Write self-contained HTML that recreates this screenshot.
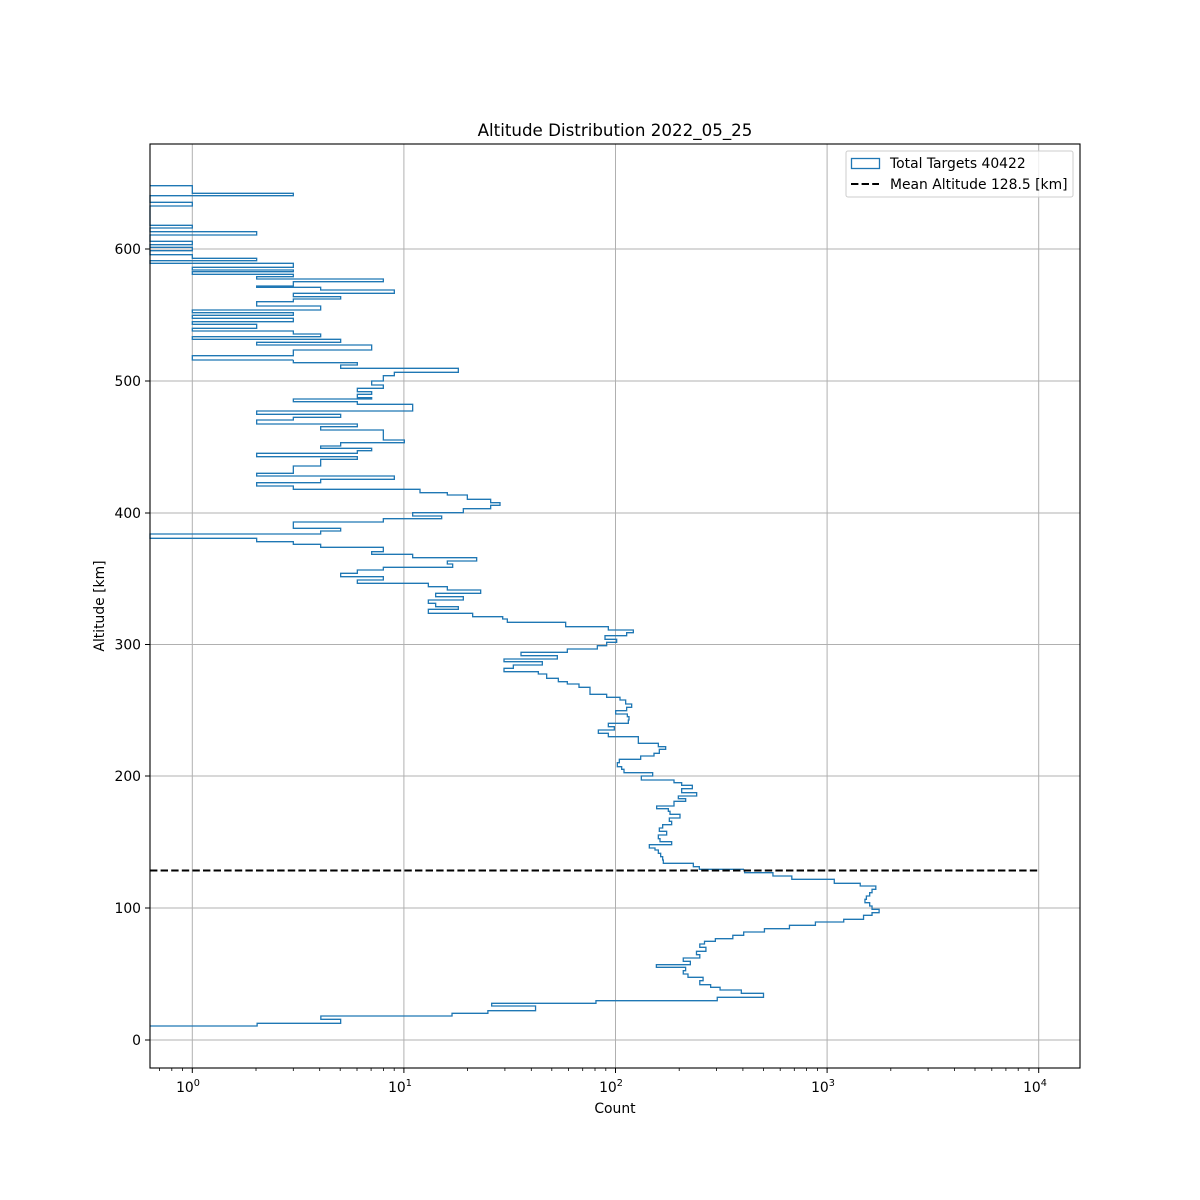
<!DOCTYPE html>
<html><head><meta charset="utf-8"><style>
html,body{margin:0;padding:0;background:#fff}
svg{display:block}
text{font-family:"DejaVu Sans","Liberation Sans",sans-serif;fill:#000}
</style></head><body>
<svg width="1200" height="1200" viewBox="0 0 1200 1200" xmlns="http://www.w3.org/2000/svg">
<rect width="1200" height="1200" fill="#fff"/>
<!-- grid -->
<g stroke="#b0b0b0" stroke-width="1">
<line x1="192.3" y1="144" x2="192.3" y2="1068"/>
<line x1="403.9" y1="144" x2="403.9" y2="1068"/>
<line x1="615.5" y1="144" x2="615.5" y2="1068"/>
<line x1="827.1" y1="144" x2="827.1" y2="1068"/>
<line x1="1038.7" y1="144" x2="1038.7" y2="1068"/>
<line x1="150" y1="1040" x2="1080" y2="1040"/>
<line x1="150" y1="908" x2="1080" y2="908"/>
<line x1="150" y1="776" x2="1080" y2="776"/>
<line x1="150" y1="644.5" x2="1080" y2="644.5"/>
<line x1="150" y1="513" x2="1080" y2="513"/>
<line x1="150" y1="381" x2="1080" y2="381"/>
<line x1="150" y1="249" x2="1080" y2="249"/>
</g>
<!-- histogram -->
<g fill="none" stroke="#1f77b4" stroke-width="1.3">
<g transform="translate(150,180) scale(0.3333333)">
<path vector-effect="non-scaling-stroke" d="M0 17 H127 V40 H430 V47 H0 V67 H127 V78 H0 V136 H127 V144 H0 V155 H320 V165 H0 V184 H127 V194 H0 V202 H127 V212 H0 V224 H127 V235 H320 V242 H0 V250 H430 V262 H127 V270 H430 V275 H127 V283 H430 V290 H320 V297 H700 V305 H430 V318 H320 V322 H512 V330 H733 V340 H430 V350 H572 V357 H430 V365 H320 V378 H512 V390 H127 V398 H430 V406 H127 V415 H430 V425 H127 V433 H320 V445 H127 V453 H430 V462 H512 V470 H127 V478 H572 V487 H320 V495 H665 V510 H430 V527 H127 V540 H430"/>
</g>
<g transform="translate(150,360) scale(0.3333333)">
<path vector-effect="non-scaling-stroke" d="M430 0 V8 H622 V15 H572 V25 H925 V37 H733 V47 H700 V63 H665 V75 H700 V85 H622 V95 H665 V103 H622 V113 H665 V117 H430 V125 H622 V133 H788 V153 H320 V163 H572 V172 H430 V180 H320 V192 H622 V200 H512 V210 H700 V240 H763 V248 H572 V258 H512 V265 H665 V272 H622 V280 H320 V290 H622 V298 H512 V318 H430 V340 H320 V348 H733 V358 H512 V368 H320 V378 H430 V388 H810 V398 H892 V405 H952 V418 H1022 V428 H1050 V436 H1022 V446 H940 V458 H788 V468 H875 V476 H700 V486 H430 V505 H572 V513 H512 V522 H0 V535 H320 V545 H430 V553 H512 V562 H700 V575 H665 V583 H788 V593 H980 V603 H892 V612 H908 V622 H700 V630 H622 V640 H572 V650 H700 V660 H622 V670 H835 V680 H892 V690 H992 V700 H857 V710 H940 V720 H835 V730 H857 V740 H925 V748 H835 V760 H968 V770 H1060"/>
</g>
<g transform="translate(480,600) scale(0.3333333)">
<path vector-effect="non-scaling-stroke" d="M68 50 V57 H82 V67 H257 V80 H385 V90 H460 V98 H440 V107 H375 V118 H410 V127 H380 V137 H352 V147 H262 V157 H123 V167 H232 V177 H72 V185 H187 V195 H100 V205 H72 V215 H175 V222 H200 V235 H235 V245 H262 V252 H297 V262 H330 V283 H380 V292 H420 V300 H437 V312 H455 V322 H440 V332 H407 V342 H442 V350 H447 V360 H445 V370 H385 V380 H403 V390 H355 V400 H385 V410 H475 V430 H535 V440 H557 V448 H538 V460 H522 V468 H482 V478 H418 V488 H412 V500 H425 V508 H432 V518 H518 V528 H484 V540 H582 V548 H605 V556 H637 V566 H605 V578 H650 V588 H595 V596 H617 V604 H582 V618 H530 V626 H565 V634 H570 V643 H600 V654 H568 V664 H575 V674 H548 V684 H538 V694 H560 V705 H535 V716 H540 V725 H575 V734 H508 V744 H525 V750 H535 V760 H542 V770 H548 V780 H550 V790 H640 V800 H658 V808 H792"/>
</g>
<g transform="translate(150,860) scale(0.47192,0.3333333)">
<path vector-effect="non-scaling-stroke" d="M1260 28 V38 H1320 V48 H1360 V58 H1450 V70 H1505 V78 H1538 V88 H1530 V98 H1525 V108 H1518 V118 H1515 V128 H1525 V138 H1530 V148 H1545 V158 H1530 V166 H1512 V178 H1470 V186 H1410 V196 H1355 V206 H1302 V216 H1258 V226 H1235 V236 H1198 V244 H1175 V252 H1165 V262 H1178 V274 H1158 V284 H1165 V294 H1130 V304 H1145 V314 H1073 V322 H1135 V332 H1130 V342 H1140 V352 H1172 V362 H1165 V374 H1188 V382 H1208 V390 H1253 V400 H1300 V412 H1202 V422 H945 V430 H724 V438 H817 V452 H716 V460 H640 V468 H362 V478 H404 V490 H227 V498 H0"/>
</g>
</g>
<!-- mean line -->
<line x1="150" y1="870.5" x2="1038.7" y2="870.5" stroke="#000" stroke-width="2" stroke-dasharray="7.4,3.2"/>
<!-- axes frame -->
<rect x="150" y="144" width="930" height="924" fill="none" stroke="#000" stroke-width="1.1"/>
<!-- x major ticks -->
<g stroke="#000" stroke-width="1">
<line x1="192.3" y1="1068" x2="192.3" y2="1073"/>
<line x1="403.9" y1="1068" x2="403.9" y2="1073"/>
<line x1="615.5" y1="1068" x2="615.5" y2="1073"/>
<line x1="827.1" y1="1068" x2="827.1" y2="1073"/>
<line x1="1038.7" y1="1068" x2="1038.7" y2="1073"/>
</g>
<!-- minor ticks -->
<g stroke="#000" stroke-width="0.8">
<line x1="159.5" y1="1068" x2="159.5" y2="1071"/><line x1="171.8" y1="1068" x2="171.8" y2="1071"/><line x1="182.6" y1="1068" x2="182.6" y2="1071"/>
<line x1="256" y1="1068" x2="256" y2="1071"/><line x1="293.3" y1="1068" x2="293.3" y2="1071"/><line x1="319.7" y1="1068" x2="319.7" y2="1071"/><line x1="340.2" y1="1068" x2="340.2" y2="1071"/><line x1="357" y1="1068" x2="357" y2="1071"/><line x1="371.1" y1="1068" x2="371.1" y2="1071"/><line x1="383.4" y1="1068" x2="383.4" y2="1071"/><line x1="394.2" y1="1068" x2="394.2" y2="1071"/>
<line x1="467.6" y1="1068" x2="467.6" y2="1071"/><line x1="504.9" y1="1068" x2="504.9" y2="1071"/><line x1="531.3" y1="1068" x2="531.3" y2="1071"/><line x1="551.8" y1="1068" x2="551.8" y2="1071"/><line x1="568.6" y1="1068" x2="568.6" y2="1071"/><line x1="582.7" y1="1068" x2="582.7" y2="1071"/><line x1="595" y1="1068" x2="595" y2="1071"/><line x1="605.8" y1="1068" x2="605.8" y2="1071"/>
<line x1="679.2" y1="1068" x2="679.2" y2="1071"/><line x1="716.5" y1="1068" x2="716.5" y2="1071"/><line x1="742.9" y1="1068" x2="742.9" y2="1071"/><line x1="763.4" y1="1068" x2="763.4" y2="1071"/><line x1="780.2" y1="1068" x2="780.2" y2="1071"/><line x1="794.3" y1="1068" x2="794.3" y2="1071"/><line x1="806.6" y1="1068" x2="806.6" y2="1071"/><line x1="817.4" y1="1068" x2="817.4" y2="1071"/>
<line x1="890.8" y1="1068" x2="890.8" y2="1071"/><line x1="928.1" y1="1068" x2="928.1" y2="1071"/><line x1="954.5" y1="1068" x2="954.5" y2="1071"/><line x1="975" y1="1068" x2="975" y2="1071"/><line x1="991.8" y1="1068" x2="991.8" y2="1071"/><line x1="1005.9" y1="1068" x2="1005.9" y2="1071"/><line x1="1018.2" y1="1068" x2="1018.2" y2="1071"/><line x1="1029" y1="1068" x2="1029" y2="1071"/>
</g>
<!-- y ticks -->
<g stroke="#000" stroke-width="1">
<line x1="145" y1="1040" x2="150" y2="1040"/><line x1="145" y1="908" x2="150" y2="908"/><line x1="145" y1="776" x2="150" y2="776"/><line x1="145" y1="644.5" x2="150" y2="644.5"/><line x1="145" y1="513" x2="150" y2="513"/><line x1="145" y1="381" x2="150" y2="381"/><line x1="145" y1="249" x2="150" y2="249"/>
</g>
<g font-size="13.9" text-anchor="end">
<text x="141" y="1045">0</text><text x="141" y="913">100</text><text x="141" y="781">200</text><text x="141" y="649.5">300</text><text x="141" y="518">400</text><text x="141" y="386">500</text><text x="141" y="254">600</text>
</g>
<g font-size="13.9" text-anchor="middle">
<text x="188" y="1092">10<tspan font-size="9.7" dy="-6">0</tspan></text>
<text x="400" y="1092">10<tspan font-size="9.7" dy="-6">1</tspan></text>
<text x="611" y="1092">10<tspan font-size="9.7" dy="-6">2</tspan></text>
<text x="823" y="1092">10<tspan font-size="9.7" dy="-6">3</tspan></text>
<text x="1035" y="1092">10<tspan font-size="9.7" dy="-6">4</tspan></text>
<text x="615" y="1113">Count</text>
<text x="104" y="606" transform="rotate(-90 104 606)" x-offset="0">Altitude [km]</text>
</g>
<text x="615" y="136" font-size="16.7" text-anchor="middle">Altitude Distribution 2022_05_25</text>
<!-- legend -->
<rect x="846" y="151" width="227" height="46" rx="2" fill="#fff" fill-opacity="0.8" stroke="#cccccc" stroke-width="1"/>
<rect x="851.5" y="158.5" width="28" height="10" fill="none" stroke="#1f77b4" stroke-width="1.3"/>
<line x1="851" y1="184" x2="879" y2="184" stroke="#000" stroke-width="2" stroke-dasharray="7.4,3.2"/>
<text x="890" y="168" font-size="13.9">Total Targets 40422</text>
<text x="890" y="189" font-size="13.9">Mean Altitude 128.5 [km]</text>
</svg>
</body></html>
